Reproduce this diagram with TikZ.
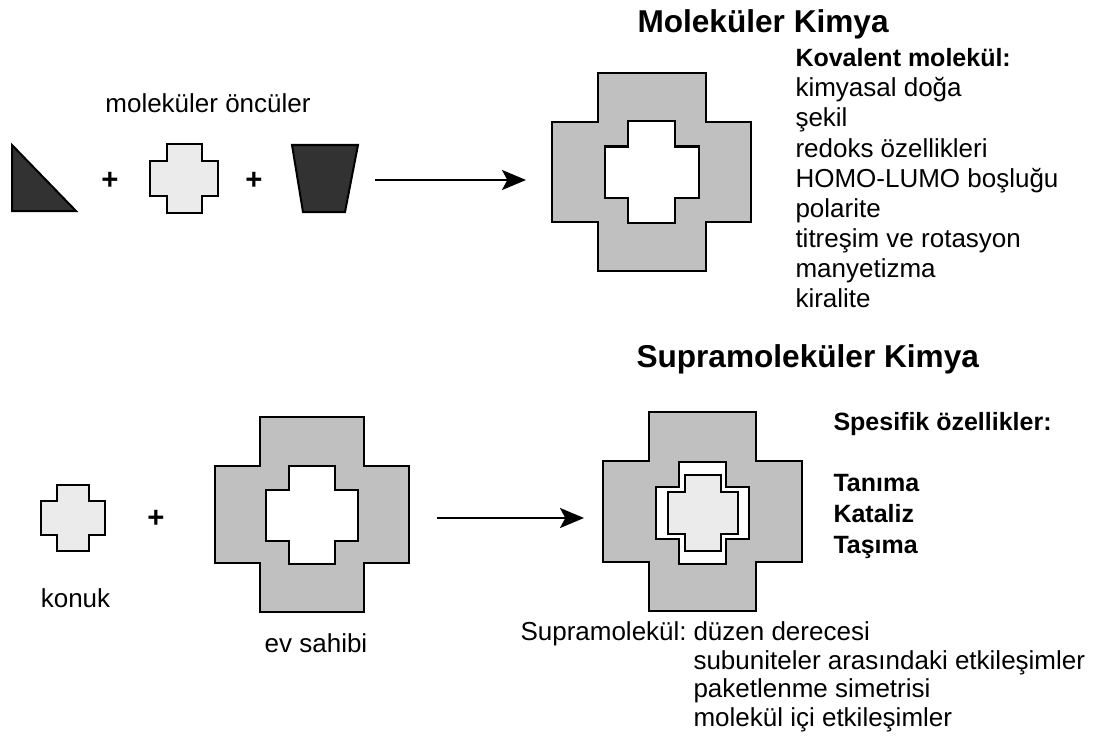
\documentclass[tikz,border=0pt]{standalone}
\usepackage{fontspec}
\setmainfont{Liberation Sans}
\usetikzlibrary{arrows.meta}

\definecolor{hostgray}{RGB}{192,192,192}
\definecolor{guestgray}{RGB}{235,235,235}
\definecolor{darkpart}{RGB}{50,50,50}

\tikzset{every picture/.style={line width=0.75pt}}
\tikzset{
  pics/crossshape/.style n args={4}{code={
    \path[pic actions] (-#3,-#2) -- (#3,-#2) -- (#3,-#4) -- (#1,-#4) -- (#1,#4) -- (#3,#4) -- (#3,#2) -- (-#3,#2) -- (-#3,#4) -- (-#1,#4) -- (-#1,-#4) -- (-#3,-#4) -- cycle;
  }},
  shapeline/.style={draw=black, line width=1.5pt, line join=miter},
  reaction/.style={line width=1.8pt, -{Stealth[length=18pt,width=15pt,inset=4pt]}},
  bodytext/.style={font=\fontsize{19.5}{22.5}\selectfont, inner sep=0pt},
  boldtext/.style={font=\fontsize{18.75}{22}\selectfont\bfseries, inner sep=0pt},
  titletext/.style={font=\fontsize{23.7}{28}\selectfont\bfseries, inner sep=0pt},
  plustext/.style={font=\fontsize{22}{24}\selectfont\bfseries, inner sep=0pt},
}

\begin{document}
\begin{tikzpicture}[x=0.75pt,y=0.75pt,yscale=-1,xscale=1]
\useasboundingbox (0,0) rectangle (1111,742);

%Molecular chemistry: precursors
\draw[shapeline, fill=darkpart] (12,145) -- (76,211) -- (12,211) -- cycle;
\pic[shapeline, fill=guestgray] at (184,178.5) {crossshape={34}{34.5}{17.5}{17.5}};
\draw[shapeline, fill=darkpart] (292,145) -- (358,145) -- (345,212) -- (303,212) -- cycle;

% Text Node
\node[plustext] (plusA) at (110,181) {+};
% Text Node
\node[plustext] (plusB) at (254,181) {+};
% Text Node
\node[bodytext, anchor=base] (precursors) at (208,113) {moleküler öncüler};

%Arrow to covalent molecule
\coordinate (covStart) at (375,180);
\coordinate (covEnd) at (526,180);
\draw[reaction] (covStart) -- (covEnd);

%Covalent molecule
\pic[shapeline, fill=hostgray] at (651.5,172) {crossshape={99.5}{99}{54}{50}};
\pic[shapeline, fill=white] at (651.5,172) {crossshape={47}{51}{23.5}{25.5}};

% Text Node
\node[titletext, anchor=base west] (molTitle) at (637,33) {Moleküler Kimya};
% Text Node
\node[boldtext, anchor=base west] (kovalent) at (795,67) {Kovalent molekül:};
\foreach \prop [count=\i] in {kimyasal doğa, şekil, redoks özellikleri, HOMO-LUMO boşluğu, polarite, titreşim ve rotasyon, manyetizma, kiralite}
  \node[bodytext, anchor=base west] (prop-\i) at (795,67+30*\i) {\prop};

%Supramolecular chemistry: guest and host
\pic[shapeline, fill=guestgray] at (73,518) {crossshape={32}{33}{16}{17}};
\pic[shapeline, fill=hostgray] at (312,514.5) {crossshape={97}{97.5}{52}{48.5}};
\pic[shapeline, fill=white] at (312,515) {crossshape={46}{49}{23}{25.5}};

% Text Node
\node[plustext] (plusC) at (156,519) {+};
% Text Node
\node[bodytext, anchor=base] (guest) at (75.5,607) {konuk};
% Text Node
\node[bodytext, anchor=base] (host) at (316,652) {ev sahibi};

%Arrow to supermolecule
\coordinate (supStart) at (437,518);
\coordinate (supEnd) at (584,518);
\draw[reaction] (supStart) -- (supEnd);

%Supermolecule
\pic[shapeline, fill=hostgray] at (702.5,511.5) {crossshape={99.5}{99.5}{53.5}{50.5}};
\pic[shapeline, fill=white] at (702.5,513) {crossshape={46.5}{51}{23.5}{26}};
\pic[shapeline, fill=guestgray] at (702.5,513) {crossshape={35}{38}{18}{21}};

% Text Node
\node[titletext, anchor=base west] (supTitle) at (636,367) {Supramoleküler Kimya};
% Text Node
\node[boldtext, anchor=base west] (specific) at (833,430) {Spesifik özellikler:};
\node[boldtext, anchor=base west] (recog) at (833,491) {Tanıma};
\node[boldtext, anchor=base west] (catal) at (833,522) {Kataliz};
\node[boldtext, anchor=base west] (transp) at (833,553) {Taşıma};

% Text Node
\node[bodytext, anchor=base west] (supra) at (520,640) {Supramolekül:};
\node[bodytext, anchor=base west] (order) at (693,640) {düzen derecesi};
\node[bodytext, anchor=base west] (subunits) at (693,669) {subuniteler arasındaki etkileşimler};
\node[bodytext, anchor=base west] (packing) at (693,697.5) {paketlenme simetrisi};
\node[bodytext, anchor=base west] (intra) at (693,726) {molekül içi etkileşimler};

\end{tikzpicture}
\end{document}
